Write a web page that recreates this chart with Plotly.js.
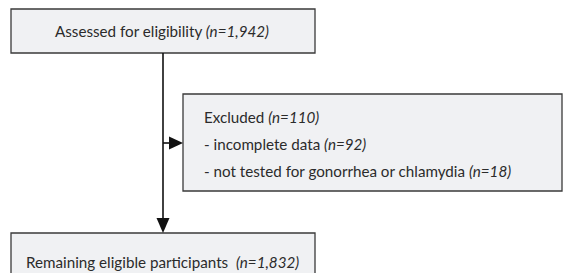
<!DOCTYPE html>
<html>
<head>
<meta charset="utf-8">
<script src="https://cdn.plot.ly/plotly-3.0.1.min.js"></script>
<style>html,body{margin:0;padding:0;background:#fff;}#chart{width:563px;height:273px;}</style>
</head>
<body>
<div id="chart"></div>
<script>
// ---- data ----
const stageLabels = ["Assessed for eligibility", "Excluded", "Remaining eligible participants"];
const stageCounts = [1942, 110, 1832];
const exclusionReasons = ["incomplete data", "not tested for gonorrhea or chlamydia"];
const exclusionCounts = [92, 18];

// ---- layout geometry (in pixel-like axis units) ----
const FONT = "Lato, 'Noto Sans', sans-serif";
const TXT = "#2b2b2b";
const FILL = "#f0f1f3";
const LINE = "#3a3a3a";
const boxes = [
  {x0: 11, x1: 315, y0: 9, y1: 53},
  {x0: 183, x1: 562, y0: 94, y1: 191},
  {x0: 11, x1: 315, y0: 233, y1: 280}
];
const fmt = n => n.toLocaleString("en-US");

const shapes = boxes.map(b => ({
  type: "rect", xref: "x", yref: "y", x0: b.x0, x1: b.x1, y0: b.y0, y1: b.y1,
  fillcolor: FILL, line: {color: LINE, width: 1.3}, layer: "below"
}));
// connectors
shapes.push({type: "line", xref: "x", yref: "y", x0: 163, x1: 163, y0: 53, y1: 219, line: {color: "#111", width: 1.6}});
shapes.push({type: "line", xref: "x", yref: "y", x0: 163, x1: 170, y0: 143, y1: 143, line: {color: "#111", width: 1.6}});
shapes.push({type: "path", xref: "x", yref: "y", path: "M 156.5 218 L 169.5 218 L 163 233 Z", fillcolor: "#111", line: {width: 0}});
shapes.push({type: "path", xref: "x", yref: "y", path: "M 169 136.5 L 169 149.5 L 183 143 Z", fillcolor: "#111", line: {width: 0}});

const annotations = [
  {x: 162, y: 31, text: stageLabels[0] + " <i>(n=" + fmt(stageCounts[0]) + ")</i>", xanchor: "center"},
  {x: 162, y: 262, text: stageLabels[2] + "  <i>(n=" + fmt(stageCounts[2]) + ")</i>", xanchor: "center"},
  {x: 202, y: 117, text: stageLabels[1] + " <i>(n=" + fmt(stageCounts[1]) + ")</i>", xanchor: "left"}
];
exclusionReasons.forEach((r, i) => {
  annotations.push({x: 202, y: 144 + 27 * i, text: "- " + r + " <i>(n=" + fmt(exclusionCounts[i]) + ")</i>", xanchor: "left"});
});
annotations.forEach(a => {
  a.xref = "x"; a.yref = "y"; a.showarrow = false; a.yanchor = "middle";
  a.font = {family: FONT, size: 15.2, color: TXT};
});

Plotly.newPlot("chart", [], {
  width: 563, height: 273,
  margin: {l: 0, r: 0, t: 0, b: 0},
  paper_bgcolor: "#fff", plot_bgcolor: "#fff",
  xaxis: {range: [0, 563], visible: false, fixedrange: true},
  yaxis: {range: [273, 0], visible: false, fixedrange: true},
  shapes: shapes, annotations: annotations, showlegend: false
}, {displayModeBar: false, staticPlot: true});
</script>
</body>
</html>
